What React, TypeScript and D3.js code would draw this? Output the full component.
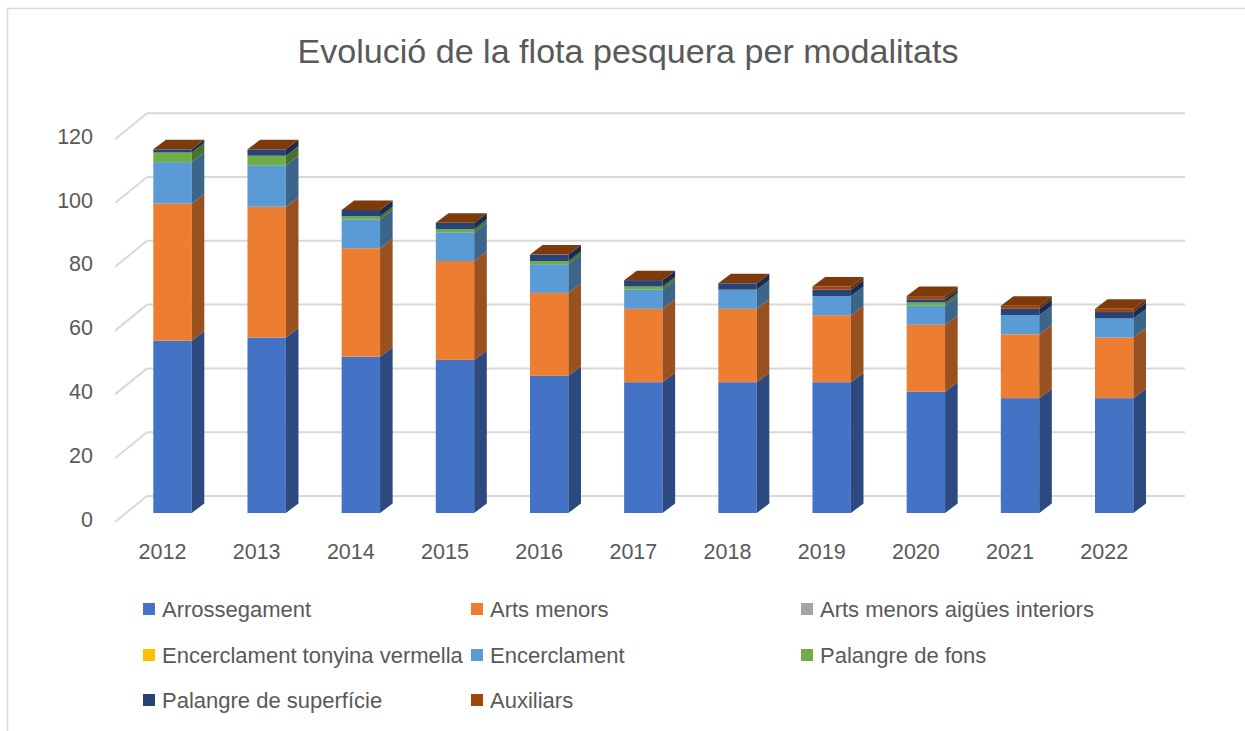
import React from "react";
import * as d3 from "d3";

const years = ["2012","2013","2014","2015","2016","2017","2018","2019","2020","2021","2022"];
const seriesNames = [
  "Arrossegament",
  "Arts menors",
  "Arts menors aigües interiors",
  "Encerclament tonyina vermella",
  "Encerclament",
  "Palangre de fons",
  "Palangre de superfície",
  "Auxiliars",
];
const arrossegament = [54,55,49,48,43,41,41,41,38,36,36];
const artsMenors = [43,41,34,31,26,23,23,21,21,20,19];
const artsMenorsAigues = [0,0,0,0,0,0,0,0,0,0,0];
const encerclamentTonyina = [0,0,0,0,0,0,0,0,0,0,0];
const encerclament = [13,13,9,9,9,6,6,6,6,6,6];
const palangreFons = [3,3,1,1,1,1,0,0,1,0,0];
const palangreSuperficie = [1,2,2,2,2,2,2,2,1,2,2];
const auxiliars = [0,0,0,0,0,0,0,1,1,1,1];
const yTicks = [0,20,40,60,80,100,120];
const colors = ["#4472C4","#ED7D31","#A5A5A5","#FFC000","#5B9BD5","#70AD47","#264478","#9E480E"];
const title = "Evolució de la flota pesquera per modalitats";

const seriesValues = [arrossegament, artsMenors, artsMenorsAigues, encerclamentTonyina, encerclament, palangreFons, palangreSuperficie, auxiliars];

export default function App() {
  const rows = years.map((y, i) => {
    const r: any = { year: y };
    seriesNames.forEach((s, j) => (r[s] = seriesValues[j][i]));
    return r;
  });
  const stack = d3.stack<any>().keys(seriesNames)(rows);

  const k = 3.19;
  const yFront = d3.scaleLinear().domain([0, 120]).range([513, 513 - 120 * k]);
  const yFloor = d3.scaleLinear().domain([0, 120]).range([522, 522 - 120 * k]);
  const yWall = d3.scaleLinear().domain([0, 120]).range([496, 496 - 120 * k]);
  const x = d3.scalePoint<string>().domain(years).range([172.5, 1114.2]);
  const bw = 38.4;
  const dx = 12.6, dy = -9.5;
  const font = "'Liberation Sans', Arial, sans-serif";
  const grey = "#595959";

  const dark = (c: string, f: number) => {
    const h = d3.rgb(c);
    return d3.rgb(h.r * f, h.g * f, h.b * f).formatHex();
  };

  const bars: any[] = [];
  years.forEach((yr, i) => {
    const xl = (x(yr) as number) - bw / 2;
    const xr = xl + bw;
    stack.forEach((layer, j) => {
      const [v0, v1] = layer[i];
      if (v1 - v0 <= 0) return;
      const yb = yFront(v0), yt = yFront(v1);
      bars.push(
        <g key={`${yr}-${j}`}>
          <rect x={xl} y={yt} width={bw} height={yb - yt} fill={colors[j]} />
          <polygon
            points={`${xr},${yb} ${xr + dx},${yb + dy} ${xr + dx},${yt + dy} ${xr},${yt}`}
            fill={dark(colors[j], 0.65)}
          />
        </g>
      );
    });
    const total = stack[stack.length - 1][i][1];
    const yt = yFront(total);
    bars.push(
      <polygon
        key={`${yr}-top`}
        points={`${xl},${yt} ${xr},${yt} ${xr + dx},${yt + dy} ${xl + dx},${yt + dy}`}
        fill={dark(colors[colors.length - 1], 0.8)}
      />
    );
  });

  const legendCols = [143, 471, 801];
  const legendRows = [609, 655, 700];

  return (
    <svg width={1245} height={731} style={{ position: "absolute", left: 0, top: 0, background: "#fff" }}>
      <rect x={0} y={0} width={1245} height={731} fill="#fff" />
      <rect x={7.5} y={8.5} width={1300} height={800} fill="none" stroke="#d9d9d9" strokeWidth={1.5} />
      <text x={628} y={63} textAnchor="middle" fontFamily={font} fontSize={33} fill={grey} textLength={661} lengthAdjust="spacingAndGlyphs">
        {title}
      </text>
      {yTicks.map((t) => (
        <g key={t}>
          <line x1={115} y1={yFloor(t)} x2={147} y2={yWall(t)} stroke="#d9d9d9" strokeWidth={2} />
          <line x1={147} y1={yWall(t)} x2={1185} y2={yWall(t)} stroke="#d9d9d9" strokeWidth={2} />
          <text x={93} y={yFloor(t) - 3} dy="0.35em" textAnchor="end" fontFamily={font} fontSize={21.5} fill={grey}>
            {t}
          </text>
        </g>
      ))}
      {bars}
      {years.map((yr) => (
        <text key={yr} x={(x(yr) as number) - 10} y={559} textAnchor="middle" fontFamily={font} fontSize={21.5} fill={grey}>
          {yr}
        </text>
      ))}
      {seriesNames.map((s, j) => {
        const cx = legendCols[j % 3];
        const cy = legendRows[Math.floor(j / 3)];
        return (
          <g key={s}>
            <rect x={cx} y={cy - 6} width={12} height={12} fill={colors[j]} />
            <text x={cx + 19} y={cy} dy="0.35em" fontFamily={font} fontSize={22} fill={grey}>
              {s}
            </text>
          </g>
        );
      })}
    </svg>
  );
}
